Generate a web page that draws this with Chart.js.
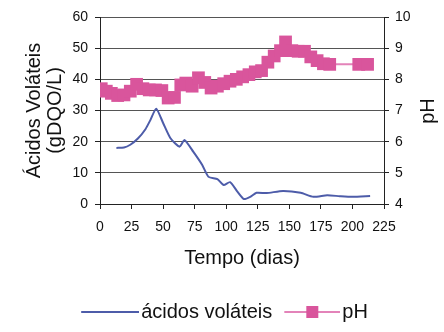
<!DOCTYPE html>
<html>
<head>
<meta charset="utf-8">
<script src="https://cdn.jsdelivr.net/npm/chart.js@4"></script>
<style>
  html, body { margin: 0; padding: 0; background: #fff; }
  #chart { display: block; }
</style>
</head>
<body>
<canvas id="chart" width="444" height="332"></canvas>
<script>
// volatile acids (gDQO/L) by day
const acidDays = [13, 19, 24, 30, 36, 40, 44.5, 50, 56, 63, 67, 74, 81, 86, 93, 98, 103, 109, 114, 119, 124, 132, 145, 159, 169, 180, 190, 200, 214];
const acidValues = [18, 18.1, 19, 21, 24, 27, 30.6, 26, 21, 18.4, 20.5, 16.7, 12.5, 8.7, 8, 6.1, 7, 3.9, 1.6, 2.3, 3.6, 3.5, 4.2, 3.6, 2.3, 2.8, 2.5, 2.3, 2.6];

// pH by day
const phDays = [1, 5, 9, 14, 19, 24, 29, 34, 39, 44, 49, 54, 59, 64, 68, 73, 78, 83, 88, 93, 98, 103, 108, 113, 118, 123, 128, 133, 138, 143, 147, 152, 157, 162, 167, 172, 177, 182, 205, 212];
const phValues = [7.7, 7.62, 7.55, 7.48, 7.5, 7.62, 7.84, 7.7, 7.66, 7.66, 7.64, 7.4, 7.42, 7.82, 7.88, 7.78, 8.05, 7.9, 7.72, 7.78, 7.86, 7.94, 8.0, 8.08, 8.15, 8.24, 8.28, 8.55, 8.75, 8.92, 9.2, 8.92, 8.9, 8.9, 8.72, 8.6, 8.5, 8.48, 8.48, 8.48];

const dayTicks = [0, 25, 50, 75, 100, 125, 150, 175, 200, 225];

const FONT = 'Liberation Sans, Arial, sans-serif';
const ACID_COLOR = '#4d5ca9';
const PH_FILL = '#d9559c';
const PH_LINE = '#e383b9';

// legend swatches; drawn offset to the right inside a wider canvas so the
// text sits close to the line
function swatch(lineFrom, boxAt) {
  const c = document.createElement('canvas');
  c.width = 71; c.height = 14;
  const g = c.getContext('2d');
  g.strokeStyle = boxAt ? PH_LINE : ACID_COLOR;
  g.lineWidth = 2;
  g.beginPath();
  g.moveTo(lineFrom, 7);
  g.lineTo(71, 7);
  g.stroke();
  if (boxAt) {
    g.fillStyle = PH_FILL;
    g.fillRect(boxAt - 6, 1, 12, 12);
  }
  return c;
}
const acidSwatch = swatch(13, 0);
const phSwatch = swatch(15, 43);

const rightTitle = {
  id: 'rightTitle',
  afterDraw(chart) {
    const ctx = chart.ctx;
    ctx.save();
    ctx.translate(428, 111);
    ctx.rotate(-Math.PI / 2);
    ctx.font = '20px ' + FONT;
    ctx.fillStyle = '#111';
    ctx.textAlign = 'center';
    ctx.textBaseline = 'middle';
    ctx.fillText('pH', 0, 0);
    ctx.restore();
  }
};

new Chart(document.getElementById('chart'), {
  type: 'line',
  data: {
    datasets: [
      {
        label: 'ácidos voláteis',
        data: acidDays.map((d, i) => ({ x: d, y: acidValues[i] })),
        yAxisID: 'y',
        borderColor: ACID_COLOR,
        borderWidth: 2,
        pointRadius: 0,
        tension: 0.2
      },
      {
        label: 'pH',
        data: phDays.map((d, i) => ({ x: d, y: phValues[i] })),
        yAxisID: 'y1',
        borderColor: PH_LINE,
        borderWidth: 2,
        pointStyle: 'rect',
        pointRadius: 9,
        pointBackgroundColor: PH_FILL,
        pointBorderColor: PH_FILL,
        pointBorderWidth: 0,
        tension: 0
      }
    ]
  },
  options: {
    responsive: false,
    animation: false,
    layout: { padding: { top: 17, left: 0, right: 0, bottom: 0 } },
    plugins: {
      tooltip: { enabled: false },
      legend: {
        position: 'bottom',
        labels: {
          usePointStyle: true,
          pointStyleWidth: 55,
          padding: 5,
          color: '#111',
          font: { family: FONT, size: 20 },
          generateLabels(chart) {
            const items = Chart.defaults.plugins.legend.labels.generateLabels(chart);
            items.forEach((it, i) => { it.pointStyle = i === 0 ? acidSwatch : phSwatch; });
            return items;
          }
        }
      }
    },
    scales: {
      x: {
        type: 'linear',
        min: 0,
        max: 225,
        afterBuildTicks(scale) { scale.ticks = dayTicks.map(v => ({ value: v })); },
        afterFit(scale) { scale.height = 93; },
        ticks: { color: '#111', padding: 10, maxRotation: 0, font: { family: FONT, size: 14 } },
        grid: { drawOnChartArea: false, tickLength: 5, color: '#222' },
        border: { color: '#222' },
        title: {
          display: true,
          text: 'Tempo (dias)',
          color: '#111',
          font: { family: FONT, size: 20 },
          padding: { top: 0, bottom: 27 }
        }
      },
      y: {
        position: 'left',
        min: 0,
        max: 60,
        afterFit(scale) { scale.width = 100; },
        ticks: { stepSize: 10, color: '#111', padding: 7, font: { family: FONT, size: 14 } },
        grid: { color: '#555', tickLength: 5, tickColor: '#222' },
        border: { color: '#222' },
        title: {
          display: true,
          text: ['Ácidos Voláteis', '(gDQO/L)'],
          color: '#111',
          font: { family: FONT, size: 20, lineHeight: 1.05 },
          padding: { top: 24, bottom: 0 }
        }
      },
      y1: {
        position: 'right',
        min: 4,
        max: 10,
        afterFit(scale) { scale.width = 60; },
        ticks: { stepSize: 1, color: '#111', padding: 6, font: { family: FONT, size: 14 } },
        grid: { drawOnChartArea: false, tickLength: 5, color: '#222' },
        border: { color: '#222' }
      }
    }
  },
  plugins: [rightTitle]
});
</script>
</body>
</html>
